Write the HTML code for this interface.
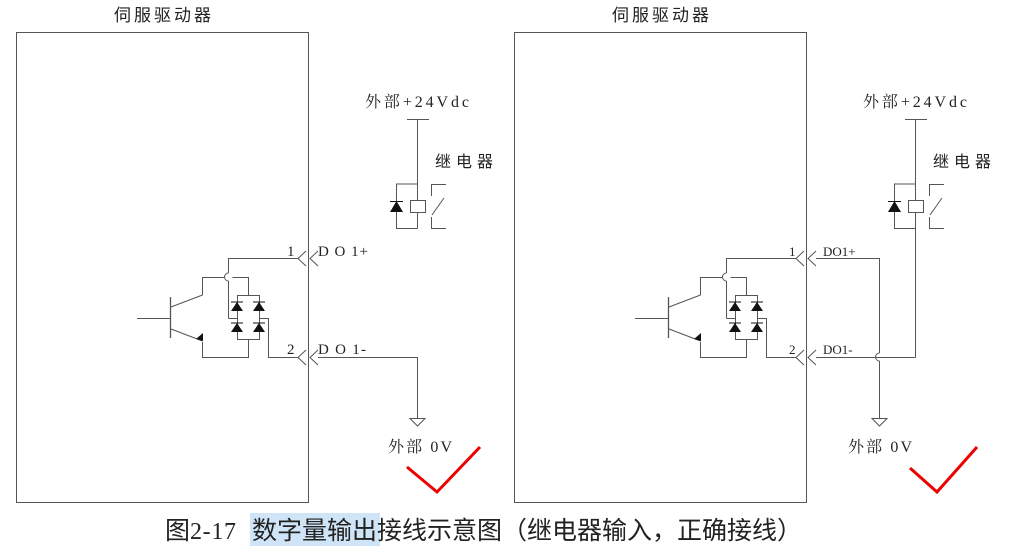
<!DOCTYPE html>
<html><head><meta charset="utf-8"><style>
html,body{margin:0;padding:0;background:#fff;}
svg{display:block;}
text{font-family:"Liberation Serif","Noto Serif CJK SC",serif;fill:#222;}
.s{font-family:"Liberation Sans","Noto Sans CJK SC",sans-serif;}
</style></head><body>
<svg width="1010" height="549" viewBox="0 0 1010 549" xmlns="http://www.w3.org/2000/svg">
<defs>
<g id="common" fill="none" stroke="#555" stroke-width="1">
  <rect x="16.5" y="32.5" width="292" height="470"/>
  <line x1="407" y1="119.5" x2="429" y2="119.5"/>
  <line x1="417.5" y1="119" x2="417.5" y2="184"/>
  <polyline points="417.5,184 396.5,184 396.5,228.5 417.5,228.5"/>
  <line x1="417.5" y1="184" x2="417.5" y2="228.5"/>
  <rect x="410.5" y="200.5" width="15" height="12" fill="#fff"/>
  <polyline points="446,184.5 431.5,184.5 431.5,196"/>
  <polyline points="446,228.5 431.5,228.5 431.5,217"/>
  <line x1="432" y1="215" x2="444" y2="198"/>
  <polygon points="390,212 403,212 396.5,201" fill="#111" stroke="none"/>
  <line x1="390" y1="201.5" x2="403" y2="201.5" stroke="#111"/>
  <polyline points="306,251 298,258.5 306,266"/>
  <polyline points="318,251 310,258.5 318,266"/>
  <polyline points="306,350 298,357.5 306,365"/>
  <polyline points="318,350 310,357.5 318,365"/>
  <polyline points="298,258.5 228.5,258.5 228.5,273"/>
  <path d="M228.5,273 A4,4 0 0 0 228.5,281"/>
  <line x1="228.5" y1="281" x2="228.5" y2="318.5"/>
  <line x1="228.5" y1="318.5" x2="237" y2="318.5"/>
  <polyline points="202.5,295 202.5,277.5 224.5,277.5"/>
  <polyline points="232.5,277.5 248.5,277.5 248.5,295"/>
  <rect x="237.5" y="295.5" width="22" height="44"/>
  <line x1="248.5" y1="339.5" x2="248.5" y2="358"/>
  <polyline points="202.5,342 202.5,357.5 248.5,357.5"/>
  <polyline points="259.5,318.5 268.5,318.5 268.5,357.5 298,357.5"/>
  <line x1="137" y1="318.5" x2="170" y2="318.5"/>
  <line x1="170.5" y1="297" x2="170.5" y2="338" stroke-width="1.3"/>
  <line x1="171" y1="307" x2="202.5" y2="295"/>
  <line x1="171" y1="329" x2="202.5" y2="341"/>
</g>
<g id="diodes" fill="#111">
  <polygon points="231,311 243,311 237,302"/><line x1="231" y1="302" x2="243" y2="302" stroke="#111"/>
  <polygon points="253,311 265,311 259,302"/><line x1="253" y1="302" x2="265" y2="302" stroke="#111"/>
  <polygon points="231,332 243,332 237,323"/><line x1="231" y1="323" x2="243" y2="323" stroke="#111"/>
  <polygon points="253,332 265,332 259,323"/><line x1="253" y1="323" x2="265" y2="323" stroke="#111"/>
  <polygon points="196,339 203,333 203,341"/>
</g>
</defs>

<use href="#common"/><use href="#diodes"/>
<text x="114" y="21" font-size="17" class="s" fill="#333" textLength="97">伺服驱动器</text>
<text x="365" y="107" font-size="16" textLength="104">外部+24Vdc</text>
<text x="435" y="167" font-size="16" class="s" textLength="58">继电器</text>
<text x="287" y="256" font-size="15">1</text>
<text x="318" y="256" font-size="15" textLength="50">D O 1+</text>
<text x="287" y="354" font-size="15">2</text>
<text x="318" y="354" font-size="15" textLength="48">D O 1-</text>
<g fill="none" stroke="#555">
  <polyline points="318,357.5 417.5,357.5 417.5,418"/>
  <polygon points="410,418.5 425,418.5 417.5,426"/>
</g>
<text x="388" y="452" font-size="16" textLength="64">外部 0V</text>
<polyline points="407,467 437,492 480,447" fill="none" stroke="#e00" stroke-width="3"/>

<g transform="translate(498,0)"><use href="#common"/><use href="#diodes"/></g>
<text x="612" y="21" font-size="17" class="s" fill="#333" textLength="97">伺服驱动器</text>
<text x="863" y="107" font-size="16" textLength="104">外部+24Vdc</text>
<text x="933" y="167" font-size="16" class="s" textLength="58">继电器</text>
<text x="789" y="256" font-size="13">1</text>
<text x="823" y="256" font-size="13">DO1+</text>
<text x="789" y="354" font-size="13">2</text>
<text x="823" y="354" font-size="13">DO1-</text>
<g fill="none" stroke="#555">
  <line x1="915.5" y1="228" x2="915.5" y2="357.5"/>
  <line x1="816" y1="357.5" x2="915.5" y2="357.5"/>
  <polyline points="816,258.5 879.5,258.5 879.5,353"/>
  <path d="M879.5,353 A4,4 0 0 0 879.5,361"/>
  <line x1="879.5" y1="361" x2="879.5" y2="418"/>
  <polygon points="872,418.5 887,418.5 879.5,426"/>
</g>
<text x="848" y="452" font-size="16" textLength="64">外部 0V</text>
<polyline points="910,468 937,492 977,447" fill="none" stroke="#e00" stroke-width="3"/>

<rect x="250" y="513" width="130" height="33" fill="#cfe5f7"/>
<text x="165" y="539" font-size="25" class="s" fill="#111">图</text>
<text x="190" y="539" font-size="24" fill="#111" textLength="46">2-17</text>
<text x="252" y="539" font-size="25" class="s" fill="#111" textLength="550">数字量输出接线示意图（继电器输入，正确接线）</text>
</svg>
</body></html>
